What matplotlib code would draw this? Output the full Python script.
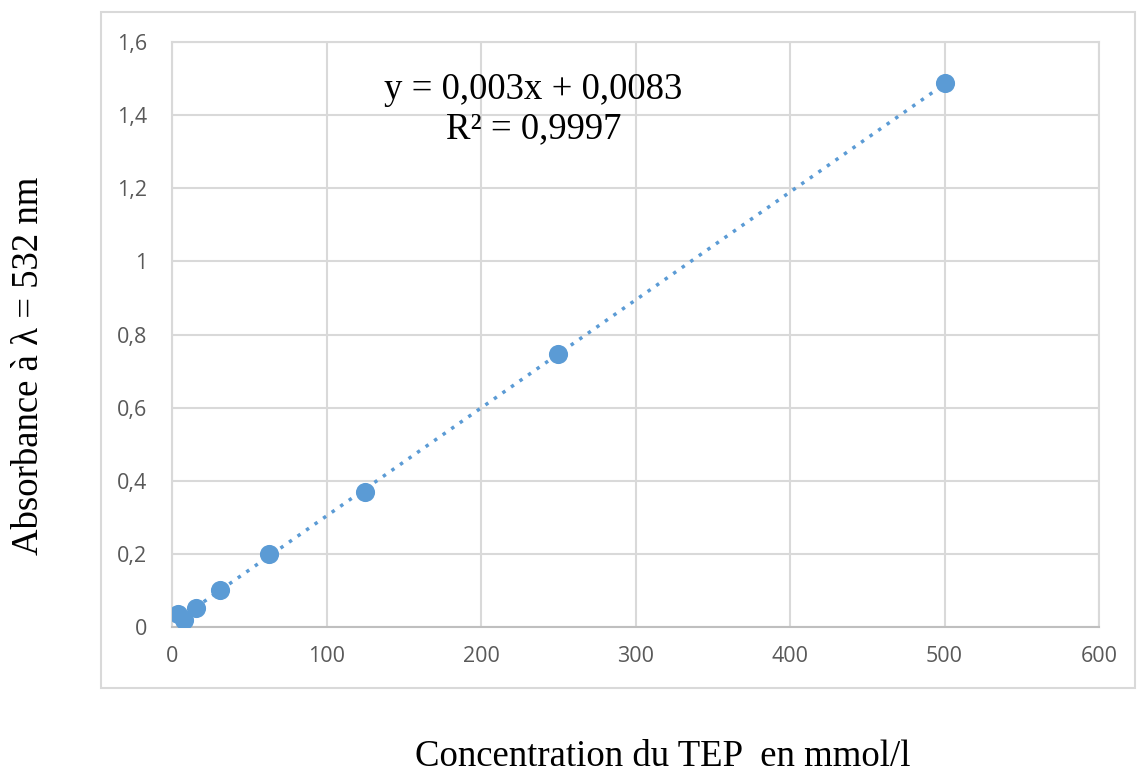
import numpy as np
import matplotlib.pyplot as plt
from matplotlib.patches import Rectangle

# TEP calibration: concentration (mmol/l) vs absorbance at 532 nm
conc = [3.9, 7.8, 15.6, 31.25, 62.5, 125, 250, 500]
absorb = [0.035, 0.020, 0.053, 0.100, 0.200, 0.368, 0.746, 1.487]
x_ticks = [0, 100, 200, 300, 400, 500, 600]
y_ticks = [0, 0.2, 0.4, 0.6, 0.8, 1.0, 1.2, 1.4, 1.6]
y_tick_labels = ["0", "0,2", "0,4", "0,6", "0,8", "1", "1,2", "1,4", "1,6"]
eq_text = "y = 0,003x + 0,0083\nR² = 0,9997"

blue = "#5B9BD5"
grid_c = "#D9D9D9"

fig = plt.figure(figsize=(11.37, 7.74), dpi=100)
fig.patches.append(Rectangle((0.0888, 0.111), 0.9094, 0.8735, transform=fig.transFigure,
                             fill=False, edgecolor=grid_c, linewidth=1.5))

ax = fig.add_axes([0.1513, 0.1899, 0.8153, 0.7558])

# linear trendline over the data range
slope, icpt = np.polyfit(conc, absorb, 1)
xs = np.array([min(conc), max(conc)])
ax.plot(xs, slope * xs + icpt, linestyle=(0, (1, 2)), color=blue, linewidth=2.5, zorder=2)
ax.scatter(conc, absorb, s=190, color=blue, zorder=3, linewidths=0)

ax.set_xlim(0, 600)
ax.set_ylim(0, 1.6)
ax.set_xticks(x_ticks)
ax.set_yticks(y_ticks)
ax.set_yticklabels(y_tick_labels)
ax.grid(True, color=grid_c, linewidth=1.5)
ax.set_axisbelow(True)
for side in ["top", "right", "left"]:
    ax.spines[side].set_color(grid_c)
    ax.spines[side].set_linewidth(1.5)
ax.spines["bottom"].set_color("#BFBFBF")
ax.spines["bottom"].set_linewidth(1.5)
ax.tick_params(length=0, labelsize=15.5, labelcolor="#595959")
ax.tick_params(axis="x", pad=14)
ax.tick_params(axis="y", pad=18)
for lab in ax.get_xticklabels() + ax.get_yticklabels():
    lab.set_family("Open Sans")

ax.text(0.39, 0.885, eq_text, transform=ax.transAxes, ha="center", va="center",
        fontsize=26.5, family="Liberation Serif", multialignment="center", linespacing=1.2)

fig.text(0.583, 0.022, "Concentration du TEP  en mmol/l", ha="center", va="center",
         fontsize=26.5, family="Liberation Serif")
fig.text(0.025, 0.528, "Absorbance à λ = 532 nm", ha="center", va="center", rotation=90,
         fontsize=26.5, family="Liberation Serif")

fig.savefig("out.png", dpi=100)
